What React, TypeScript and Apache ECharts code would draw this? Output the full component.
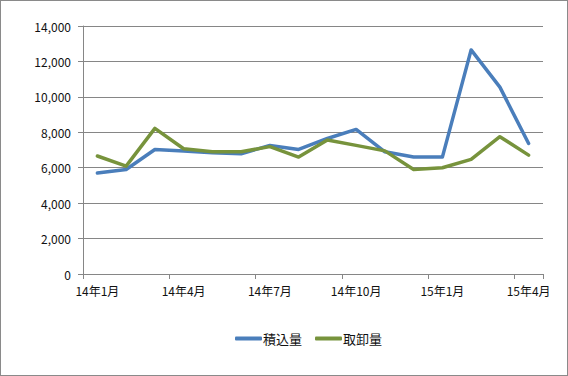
import React, { useEffect, useRef } from "react";
import * as echarts from "echarts";

const months = [
  "14年1月", "14年2月", "14年3月", "14年4月", "14年5月", "14年6月",
  "14年7月", "14年8月", "14年9月", "14年10月", "14年11月", "14年12月",
  "15年1月", "15年2月", "15年3月", "15年4月",
];
const loading = [5700, 5900, 7030, 6940, 6850, 6790, 7260, 7030, 7650, 8160, 6900, 6600, 6600, 12650, 10550, 7370];
const unloading = [6660, 6090, 8220, 7070, 6900, 6900, 7190, 6600, 7560, 7260, 6950, 5900, 6000, 6470, 7750, 6710];
const seriesNames = ["積込量", "取卸量"];

const FONT = "'Noto Sans CJK JP', 'Liberation Sans', sans-serif";

export default function App() {
  const ref = useRef<HTMLDivElement>(null);
  useEffect(() => {
    document.body.style.margin = "0";
    const chart = echarts.init(ref.current!, null, { renderer: "svg" });
    chart.setOption({
      animation: false,
      backgroundColor: "transparent",
      textStyle: { fontFamily: FONT },
      grid: { left: 83, right: 25, top: 26, bottom: 102 },
      legend: {
        left: 235,
        top: 332,
        padding: 0,
        itemWidth: 27,
        itemHeight: 4,
        itemGap: 13,
        icon: "roundRect",
        textStyle: { fontFamily: FONT, fontSize: 13, color: "#111", padding: [0, 0, 0, -4] },
        data: seriesNames,
      },
      xAxis: {
        type: "category",
        data: months,
        boundaryGap: true,
        axisLine: { lineStyle: { color: "#868686", width: 1 } },
        axisTick: { show: true, interval: 2, length: 5, lineStyle: { color: "#868686" } },
        axisLabel: { interval: 2, margin: 10, fontSize: 12, color: "#111", fontFamily: FONT },
      },
      yAxis: {
        type: "value",
        min: 0,
        max: 14000,
        interval: 2000,
        axisLine: { show: true, lineStyle: { color: "#868686", width: 1 } },
        axisTick: { show: true, length: 5, lineStyle: { color: "#868686" } },
        axisLabel: {
          margin: 12,
          fontSize: 12,
          color: "#111",
          fontFamily: FONT,
          formatter: (v: number) => v.toLocaleString("en-US"),
        },
        splitLine: { lineStyle: { color: "#868686", width: 1 } },
      },
      series: [
        {
          name: seriesNames[0],
          type: "line",
          data: loading,
          showSymbol: false,
          symbol: "none",
          color: "#4A7EBB",
          lineStyle: { width: 3.5, color: "#4A7EBB", cap: "round", join: "round" },
        },
        {
          name: seriesNames[1],
          type: "line",
          data: unloading,
          showSymbol: false,
          symbol: "none",
          color: "#77933C",
          lineStyle: { width: 3.5, color: "#77933C", cap: "round", join: "round" },
        },
      ],
    });
    return () => chart.dispose();
  }, []);
  return (
    <div
      style={{
        position: "absolute",
        left: 0,
        top: 0,
        width: 568,
        height: 376,
        border: "1px solid #8a8a8a",
        boxSizing: "border-box",
        background: "#fff",
      }}
    >
      <div ref={ref} style={{ position: "absolute", left: -1, top: -1, width: 568, height: 376 }} />
    </div>
  );
}
